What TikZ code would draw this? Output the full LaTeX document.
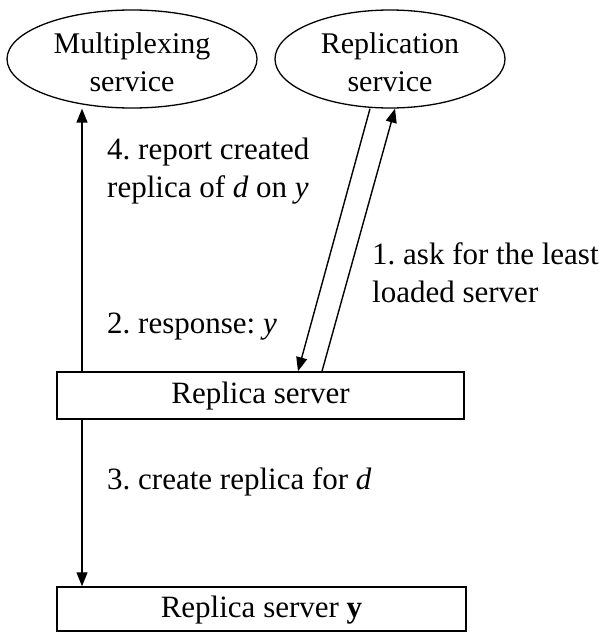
\documentclass[tikz,border=0pt]{standalone}
\usepackage{fontspec}
\setmainfont{Liberation Serif}
\usetikzlibrary{arrows.meta,shapes.geometric}
\frenchspacing
\begin{document}
\begin{tikzpicture}[x=1pt,y=-1pt,
  every node/.style={font=\fontsize{31}{38}\selectfont},
  svc/.style={draw,ellipse,line width=1.3pt,inner sep=0pt},
  srv/.style={draw,rectangle,line width=1.5pt,inner sep=0pt},
  txt/.style={inner sep=0pt,align=center},
  stxt/.style={inner sep=0pt,align=center,font=\fontsize{30}{38}\selectfont},
  lbl/.style={anchor=north west,inner sep=0pt,align=left},
  lbb/.style={anchor=base west,inner sep=0pt},
  conn/.style={line width=1.4pt,-{Triangle[length=14pt,width=11pt]}}]
\useasboundingbox (0,0) rectangle (607,632);
% services
\node[svc,minimum width=250pt,minimum height=98pt] (mux) at (132,59) {};
\node[stxt] (muxt) at (132,62) {Multiplexing\\service};
\node[svc,minimum width=230pt,minimum height=98pt] (rep) at (390,59) {};
\node[stxt] (rept) at (390,62) {Replication\\service};
% servers
\node[srv,minimum width=407pt,minimum height=47pt] (rs) at (260.5,395.5) {};
\node[txt] (rst) at (260.5,396) {Replica server};
\node[srv,minimum width=409pt,minimum height=44pt] (rsy) at (261.5,609) {};
\node[txt] (rsyt) at (261.5,610) {Replica server \textbf{y}};
% helper coordinates
\coordinate (lx) at (82,0);
\coordinate (a1) at (370,0);
\coordinate (a2) at (298,0);
\coordinate (b1) at (322,0);
\coordinate (b2) at (395,0);
% connectors
\draw[conn] (rs.north -| lx) -- (mux.south -| lx);
\draw[conn] (rs.south -| lx) -- (rsy.north -| lx);
\draw[conn] (rep.south -| a1) -- (rs.north -| a2);
\draw[conn] (rs.north -| b1) -- (rep.south -| b2);
% labels
\node[lbl] (l4) at (107,138) {4. report created\\replica of \textit{d} on \textit{y}};
\node[lbl] (l1) at (372,242) {1. ask for the least\\loaded server};
\node[lbb] (l2) at (107,333) {2. response: \textit{y}};
\node[lbb] (l3) at (107,489) {3. create replica for \textit{d}};
\end{tikzpicture}
\end{document}
